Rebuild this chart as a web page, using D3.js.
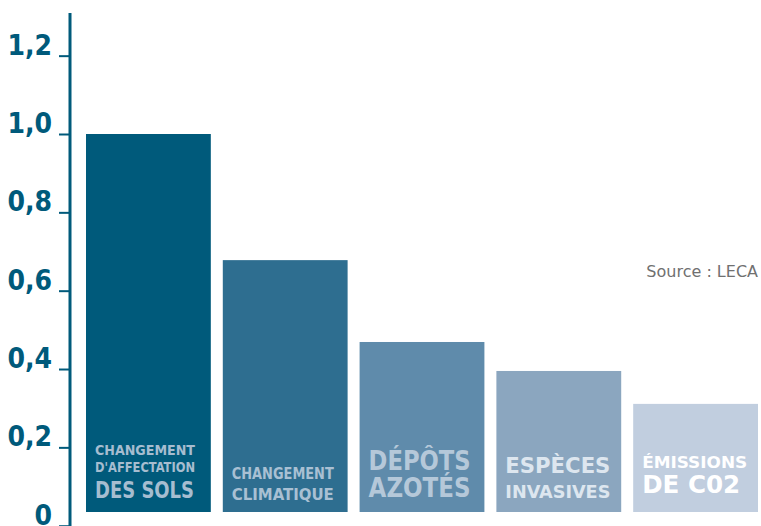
<!DOCTYPE html>
<html>
<head>
<meta charset="utf-8">
<script src="https://cdn.jsdelivr.net/npm/d3@7"></script>
<style>
    body { margin: 0; background: #fff; }
    svg { display: block; }
</style>
</head>
<body>
<div id="chart"></div>
<script>
// data
const categories = ["sols", "climat", "azote", "especes", "co2"];
const values = [1.0, 0.678, 0.469, 0.395, 0.311];
const tickValues = [0, 0.2, 0.4, 0.6, 0.8, 1.0, 1.2];
const tickLabels = ["0", "0,2", "0,4", "0,6", "0,8", "1,0", "1,2"];
const barColors = ["#005a7b", "#2e6e90", "#5f8bab", "#8ba6bf", "#c1cedf"];
const textColors = ["#a6bdd0", "#a9c0d3", "#b5c8d9", "#dde6ef", "#ffffff"];
// label lines per bar: [text, font size, baseline offset from bar bottom, width]
const barLabels = [
    [["CHANGEMENT", 14, -57, 100], ["D'AFFECTATION", 14, -40, 100], ["DES SOLS", 23, -14, 99]],
    [["CHANGEMENT", 15, -33, 102], ["CLIMATIQUE", 15, -12, 102]],
    [["DÉPÔTS", 26, -42, 102], ["AZOTÉS", 26, -15, 102]],
    [["ESPÈCES", 21, -39, 105], ["INVASIVES", 18, -14, 105]],
    [["ÉMISSIONS", 16, -44, 105], ["DE C02", 25, -19, 98]]
];

const width = 761, height = 526;
const svg = d3.select("#chart").append("svg")
    .attr("width", width)
    .attr("height", height);

const y = d3.scaleLinear()
    .domain([0, 1.0])
    .range([525.7, 134]);

const x = d3.scaleBand()
    .domain(categories)
    .range([86, 758])
    .paddingInner(12 / 137)
    .paddingOuter(0);

const barBottom = 512;
const font = "'DejaVu Sans Condensed', 'DejaVu Sans', sans-serif";

// axis
const axis = d3.axisLeft(y)
    .tickValues(tickValues)
    .tickFormat((d, i) => tickLabels[i])
    .tickSize(11)
    .tickPadding(7);

const axisG = svg.append("g")
    .attr("transform", "translate(70,0)")
    .call(axis);

axisG.select(".domain")
    .attr("d", `M0,13V${height}`)
    .attr("stroke", "#005a7b")
    .attr("stroke-width", 3);

axisG.selectAll(".tick line")
    .attr("stroke", "#005a7b")
    .attr("stroke-width", 2);

axisG.selectAll(".tick text")
    .attr("fill", "#005a7b")
    .attr("font-family", font)
    .attr("font-weight", "bold")
    .attr("font-size", 28)
    .attr("dy", "-0.05em");

// bars
svg.selectAll(".bar")
    .data(values)
    .join("rect")
    .attr("class", "bar")
    .attr("x", (d, i) => x(categories[i]))
    .attr("y", d => y(d))
    .attr("width", x.bandwidth())
    .attr("height", d => barBottom - y(d))
    .attr("fill", (d, i) => barColors[i]);

// labels inside bars
barLabels.forEach((lines, i) => {
    const g = svg.append("g");
    lines.forEach(l => {
        g.append("text")
            .attr("x", x(categories[i]) + 9)
            .attr("y", barBottom + l[2])
            .attr("font-family", font)
            .attr("font-weight", "bold")
            .attr("font-size", l[1])
            .attr("fill", textColors[i])
            .attr("textLength", l[3])
            .attr("lengthAdjust", "spacingAndGlyphs")
            .text(l[0]);
    });
});

// source
svg.append("text")
    .attr("x", 758)
    .attr("y", 277)
    .attr("text-anchor", "end")
    .attr("font-family", "'DejaVu Sans', sans-serif")
    .attr("font-size", 16)
    .attr("fill", "#707070")
    .text("Source : LECA");
</script>
</body>
</html>
